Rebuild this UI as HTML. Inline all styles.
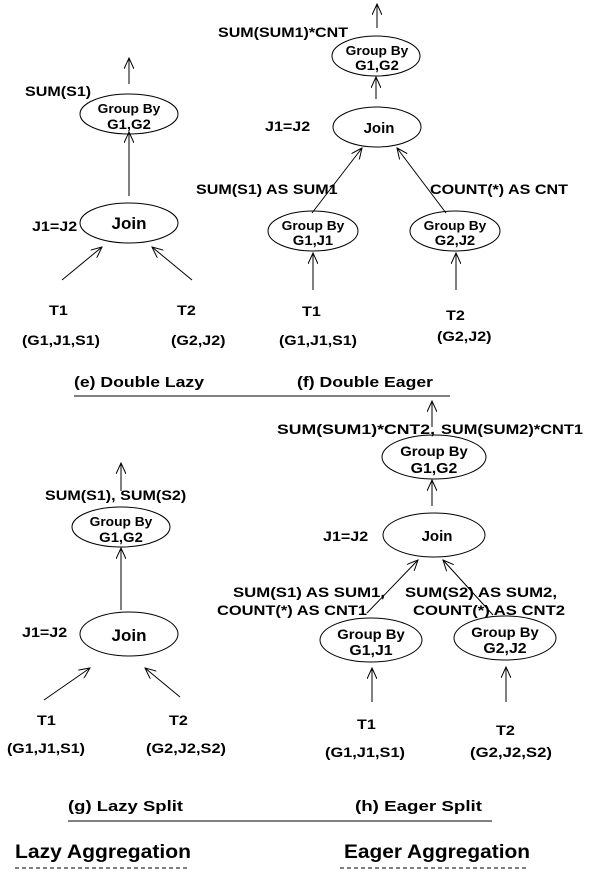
<!DOCTYPE html>
<html><head><style>body{margin:0;background:#fff}svg{display:block}text{font-family:"Liberation Sans",sans-serif;font-weight:bold;fill:#000}
.s{transform-box:fill-box;transform-origin:left center;transform:scaleX(1.15)}
.m{transform-box:fill-box;transform-origin:center;transform:scaleX(1.06)}</style></head>
<body>
<svg width="593" height="876" viewBox="0 0 593 876" xmlns="http://www.w3.org/2000/svg">
<defs><marker id="a" markerWidth="12" markerHeight="10" refX="11" refY="5" orient="auto" markerUnits="userSpaceOnUse"><path d="M0,0 L11,5 L0,10" fill="none" stroke="#000" stroke-width="1"/></marker></defs>
<g stroke="#000" stroke-width="1" fill="none">
<line x1="129" y1="84" x2="129" y2="58" marker-end="url(#a)"/>
<ellipse cx="129" cy="114" rx="49" ry="20"/>
<line x1="129" y1="196" x2="129" y2="132" marker-end="url(#a)"/>
<ellipse cx="129" cy="223" rx="49" ry="20"/>
<line x1="62" y1="280" x2="102" y2="247" marker-end="url(#a)"/>
<line x1="192" y1="280" x2="152" y2="247" marker-end="url(#a)"/>
<line x1="74" y1="396" x2="450" y2="396"/>
<line x1="377" y1="28" x2="377" y2="4" marker-end="url(#a)"/>
<ellipse cx="376" cy="56" rx="44" ry="20"/>
<line x1="376" y1="99" x2="376" y2="77" marker-end="url(#a)"/>
<ellipse cx="377" cy="127" rx="44" ry="20"/>
<line x1="312" y1="213" x2="362" y2="148" marker-end="url(#a)"/>
<line x1="446" y1="213" x2="397" y2="148" marker-end="url(#a)"/>
<ellipse cx="313" cy="231" rx="45" ry="20"/>
<ellipse cx="455" cy="231" rx="45" ry="20"/>
<line x1="313" y1="290" x2="313" y2="253" marker-end="url(#a)"/>
<line x1="456" y1="290" x2="456" y2="253" marker-end="url(#a)"/>
<line x1="121" y1="491" x2="121" y2="463" marker-end="url(#a)"/>
<ellipse cx="121" cy="527" rx="49" ry="20"/>
<line x1="121" y1="610" x2="121" y2="548" marker-end="url(#a)"/>
<ellipse cx="129" cy="634" rx="49" ry="22"/>
<line x1="44" y1="700" x2="90" y2="668" marker-end="url(#a)"/>
<line x1="180" y1="697" x2="145" y2="668" marker-end="url(#a)"/>
<line x1="68" y1="821" x2="492" y2="821"/>
<line x1="432" y1="427" x2="432" y2="401" marker-end="url(#a)"/>
<ellipse cx="434" cy="457" rx="52" ry="22"/>
<line x1="432" y1="506" x2="432" y2="480" marker-end="url(#a)"/>
<ellipse cx="434" cy="535" rx="51" ry="22"/>
<line x1="367" y1="613" x2="418" y2="560" marker-end="url(#a)"/>
<line x1="493" y1="615" x2="443" y2="560" marker-end="url(#a)"/>
<ellipse cx="371" cy="640" rx="51" ry="22"/>
<ellipse cx="505" cy="638" rx="51" ry="22"/>
<line x1="372" y1="702" x2="372" y2="668" marker-end="url(#a)"/>
<line x1="506" y1="702" x2="506" y2="667" marker-end="url(#a)"/>
<line x1="15" y1="868" x2="190" y2="868" stroke-dasharray="4,3"/>
<line x1="340" y1="868" x2="527" y2="868" stroke-dasharray="4,3"/>
</g>
<g font-size="14">
<text class="s" x="25" y="96">SUM(S1)</text>
<text class="m" x="129" y="113" text-anchor="middle" font-size="13">Group By</text>
<text class="m" x="129" y="129" text-anchor="middle">G1,G2</text>
<text x="129" y="229" text-anchor="middle" font-size="17">Join</text>
<text class="s" x="32" y="231">J1=J2</text>
<text class="s" x="49" y="315">T1</text><text class="s" x="177" y="315">T2</text>
<text x="22" y="345" textLength="78" lengthAdjust="spacingAndGlyphs">(G1,J1,S1)</text><text class="s" x="171" y="345">(G2,J2)</text>
<text x="74" y="387" font-size="15" textLength="130" lengthAdjust="spacingAndGlyphs">(e) Double Lazy</text>

<text x="218" y="37" textLength="130" lengthAdjust="spacingAndGlyphs">SUM(SUM1)*CNT</text>
<text class="m" x="377" y="55" text-anchor="middle" font-size="13">Group By</text>
<text class="m" x="377" y="70" text-anchor="middle">G1,G2</text>
<text class="s" x="265" y="131">J1=J2</text>
<text x="379" y="133" text-anchor="middle" font-size="15">Join</text>
<text class="s" x="196" y="194">SUM(S1) AS SUM1</text>
<text class="s" x="430" y="194">COUNT(*) AS CNT</text>
<text class="m" x="313" y="230" text-anchor="middle" font-size="13">Group By</text>
<text class="m" x="313" y="245" text-anchor="middle">G1,J1</text>
<text class="m" x="455" y="230" text-anchor="middle" font-size="13">Group By</text>
<text class="m" x="455" y="245" text-anchor="middle">G2,J2</text>
<text class="s" x="302" y="316">T1</text><text class="s" x="446" y="320">T2</text>
<text x="279" y="345" textLength="78" lengthAdjust="spacingAndGlyphs">(G1,J1,S1)</text><text class="s" x="437" y="341">(G2,J2)</text>
<text x="297" y="387" font-size="15" textLength="136" lengthAdjust="spacingAndGlyphs">(f) Double Eager</text>

<text class="s" x="45" y="500">SUM(S1),  SUM(S2)</text>
<text class="m" x="121" y="526" text-anchor="middle" font-size="13">Group By</text>
<text class="m" x="121" y="542" text-anchor="middle">G1,G2</text>
<text class="s" x="22" y="637">J1=J2</text>
<text x="129" y="641" text-anchor="middle" font-size="17">Join</text>
<text class="s" x="37" y="725">T1</text><text class="s" x="169" y="725">T2</text>
<text x="7" y="753" textLength="78" lengthAdjust="spacingAndGlyphs">(G1,J1,S1)</text><text x="146" y="753" textLength="80" lengthAdjust="spacingAndGlyphs">(G2,J2,S2)</text>
<text x="68" y="811" font-size="15" textLength="115" lengthAdjust="spacingAndGlyphs">(g) Lazy Split</text>

<text x="277" y="434" textLength="158" lengthAdjust="spacingAndGlyphs">SUM(SUM1)*CNT2,</text>
<text x="441" y="434" textLength="142" lengthAdjust="spacingAndGlyphs">SUM(SUM2)*CNT1</text>
<text class="m" x="434" y="456" text-anchor="middle" font-size="14">Group By</text>
<text class="m" x="434" y="473" text-anchor="middle" font-size="15">G1,G2</text>
<text class="s" x="323" y="541">J1=J2</text>
<text x="437" y="541" text-anchor="middle" font-size="15">Join</text>
<text x="233" y="597" textLength="152" lengthAdjust="spacingAndGlyphs">SUM(S1) AS SUM1,</text>
<text x="217" y="615" textLength="150" lengthAdjust="spacingAndGlyphs">COUNT(*) AS CNT1</text>
<text x="405" y="597" textLength="152" lengthAdjust="spacingAndGlyphs">SUM(S2) AS SUM2,</text>
<text x="413" y="615" textLength="152" lengthAdjust="spacingAndGlyphs">COUNT(*) AS CNT2</text>
<text class="m" x="371" y="639" text-anchor="middle" font-size="14">Group By</text>
<text class="m" x="371" y="655" text-anchor="middle" font-size="15">G1,J1</text>
<text class="m" x="505" y="637" text-anchor="middle" font-size="14">Group By</text>
<text class="m" x="505" y="653" text-anchor="middle" font-size="15">G2,J2</text>
<text class="s" x="357" y="729">T1</text><text class="s" x="496" y="735">T2</text>
<text x="325" y="757" textLength="80" lengthAdjust="spacingAndGlyphs">(G1,J1,S1)</text><text x="470" y="757" textLength="82" lengthAdjust="spacingAndGlyphs">(G2,J2,S2)</text>
<text x="355" y="811" font-size="15" textLength="127" lengthAdjust="spacingAndGlyphs">(h) Eager Split</text>

<text x="15" y="858" font-size="19" textLength="176" lengthAdjust="spacingAndGlyphs">Lazy Aggregation</text>
<text x="344" y="858" font-size="19" textLength="186" lengthAdjust="spacingAndGlyphs">Eager Aggregation</text>
</g>
</svg>
</body></html>
